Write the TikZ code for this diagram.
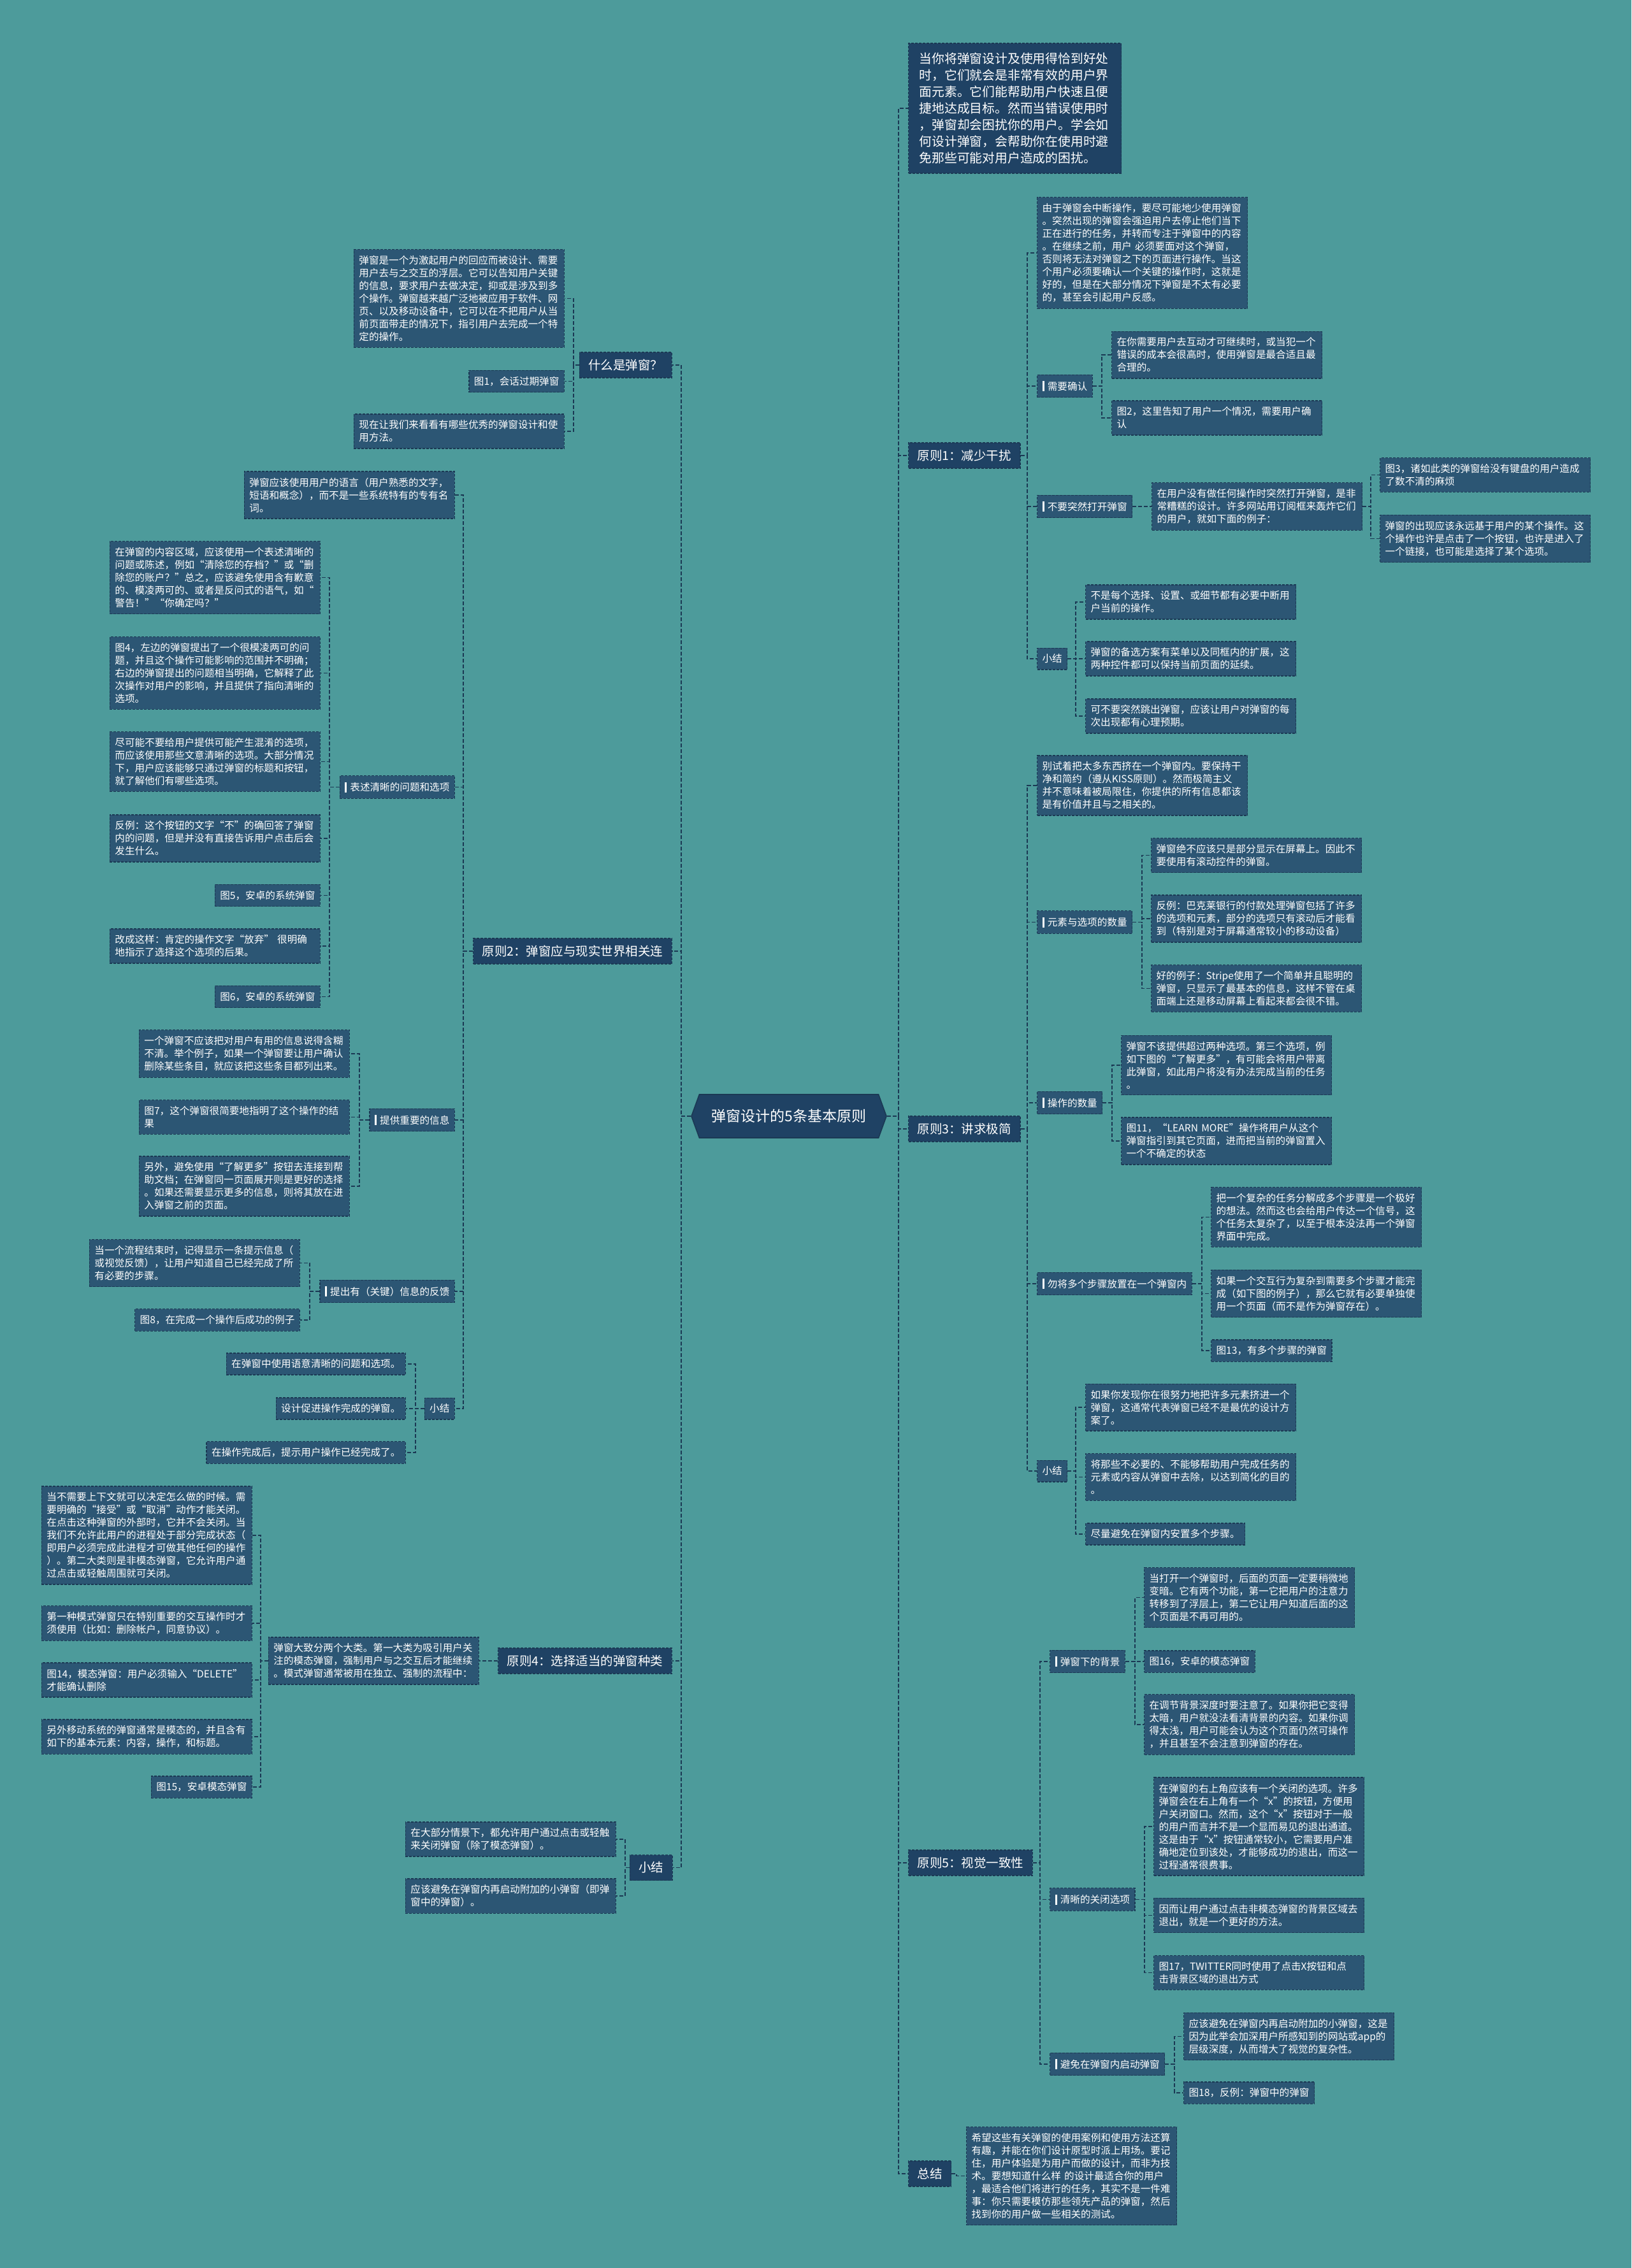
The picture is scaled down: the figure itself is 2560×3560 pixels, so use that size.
\documentclass[tikz,border=0pt]{standalone}
\usepackage{fontspec}
\setmainfont{Noto Sans CJK SC}
\usetikzlibrary{shapes.symbols}
\definecolor{bgc}{HTML}{4D9B9B}
\definecolor{leafc}{HTML}{2C5674}
\definecolor{primc}{HTML}{1F4264}
\definecolor{bordc}{HTML}{1B3954}
\definecolor{linec}{HTML}{1B3954}
\newcommand\lf{\fontsize{7.8pt}{10pt}\selectfont}
\newcommand\pf{\fontsize{9.75pt}{12pt}\selectfont}
\newcommand\vbarmark{\textcolor{white}{\rule[-0.9pt]{1.6pt}{8pt}}\hspace{2.5pt}}
\newcommand\rcon[3]{\draw[conn] (#1.east) -- (#3,0 |- #1.east) |- (#2.west);}
\newcommand\lcon[3]{\draw[conn] (#1.west) -- (#3,0 |- #1.west) |- (#2.east);}
\tikzset{
  box/.style={draw=bordc, line width=0.6pt, dash pattern=on 2pt off 1pt, text=white},
  leaf/.style={box, fill=leafc, font=\lf, inner xsep=4pt, inner ysep=4.85pt, align=left},
  wide/.style={text width=157pt},
  prim/.style={box, fill=primc, font=\pf, inner xsep=7pt, minimum height=20pt},
  conn/.style={draw=linec, line width=0.7pt, dash pattern=on 3pt off 1.5pt},
}
\begin{document}
\begin{tikzpicture}[x=0.5pt,y=-0.5pt]
\useasboundingbox (0,0) rectangle (2560,3560);
\fill[bgc] (0,0) rectangle (2560,3560);

% root
\node[shape=signal, signal to=east and west, signal pointer angle=140, fill=primc, draw=bordc, line width=0.8pt, text=white, font=\fontsize{11.5pt}{14pt}\selectfont, minimum width=153pt, minimum height=34pt, inner xsep=2pt] (root) at (1238,1752) {弹窗设计的5条基本原则};

% ===== right side =====
\node[box, fill=primc, font=\fontsize{9.9pt}{13pt}\selectfont, text width=150pt, inner xsep=8.5pt, minimum height=102pt, align=left, anchor=west] (intro) at (1425,170) {当你将弹窗设计及使用得恰到好处\\时，它们就会是非常有效的用户界\\面元素。它们能帮助用户快速且便\\捷地达成目标。然而当错误使用时\\，弹窗却会困扰你的用户。学会如\\何设计弹窗，会帮助你在使用时避\\免那些可能对用户造成的困扰。};

% 原则1
\node[prim, anchor=west] (p1) at (1425,715) {原则1：减少干扰};
\node[leaf, wide, anchor=west] (a1) at (1627,397) {由于弹窗会中断操作，要尽可能地少使用弹窗\\。突然出现的弹窗会强迫用户去停止他们当下\\正在进行的任务，并转而专注于弹窗中的内容\\。在继续之前，用户 必须要面对这个弹窗，\\否则将无法对弹窗之下的页面进行操作。当这\\个用户必须要确认一个关键的操作时，这就是\\好的，但是在大部分情况下弹窗是不太有必要\\的，甚至会引起用户反感。};
\node[leaf, anchor=west] (a2) at (1627,606) {\vbarmark 需要确认};
\node[leaf, wide, anchor=west] (a21) at (1744,557) {在你需要用户去互动才可继续时，或当犯一个\\错误的成本会很高时，使用弹窗是最合适且最\\合理的。};
\node[leaf, wide, anchor=west] (a22) at (1744,656) {图2，这里告知了用户一个情况，需要用户确\\认};
\node[leaf, anchor=west] (a3) at (1627,795) {\vbarmark 不要突然打开弹窗};
\node[leaf, wide, anchor=west] (a31) at (1807,795) {在用户没有做任何操作时突然打开弹窗，是非\\常糟糕的设计。许多网站用订阅框来轰炸它们\\的用户，就如下面的例子：};
\node[leaf, wide, anchor=west] (a311) at (2165,745.5) {图3，诸如此类的弹窗给没有键盘的用户造成\\了数不清的麻烦};
\node[leaf, wide, anchor=west] (a312) at (2165,845.5) {弹窗的出现应该永远基于用户的某个操作。这\\个操作也许是点击了一个按钮，也许是进入了\\一个链接，也可能是选择了某个选项。};
\node[leaf, anchor=west] (a4) at (1627,1034) {小结};
\node[leaf, wide, anchor=west] (a41) at (1703,945) {不是每个选择、设置、或细节都有必要中断用\\户当前的操作。};
\node[leaf, wide, anchor=west] (a42) at (1703,1034) {弹窗的备选方案有菜单以及同框内的扩展，这\\两种控件都可以保持当前页面的延续。};
\node[leaf, wide, anchor=west] (a43) at (1703,1124) {可不要突然跳出弹窗，应该让用户对弹窗的每\\次出现都有心理预期。};

% 原则3
\node[prim, anchor=west] (p3) at (1425,1772) {原则3：讲求极简};
\node[leaf, wide, anchor=west] (b1) at (1627,1233) {别试着把太多东西挤在一个弹窗内。要保持干\\净和简约（遵从KISS原则）。然而极简主义\\并不意味着被局限住，你提供的所有信息都该\\是有价值并且与之相关的。};
\node[leaf, anchor=west] (b2) at (1627,1447.5) {\vbarmark 元素与选项的数量};
\node[leaf, wide, anchor=west] (b21) at (1806,1342.5) {弹窗绝不应该只是部分显示在屏幕上。因此不\\要使用有滚动控件的弹窗。};
\node[leaf, wide, anchor=west] (b22) at (1806,1442) {反例：巴克莱银行的付款处理弹窗包括了许多\\的选项和元素，部分的选项只有滚动后才能看\\到（特别是对于屏幕通常较小的移动设备）};
\node[leaf, wide, anchor=west] (b23) at (1806,1551.5) {好的例子：Stripe使用了一个简单并且聪明的\\弹窗，只显示了最基本的信息，这样不管在桌\\面端上还是移动屏幕上看起来都会很不错。};
\node[leaf, anchor=west] (b3) at (1627,1731) {\vbarmark 操作的数量};
\node[leaf, wide, anchor=west] (b31) at (1759,1672) {弹窗不该提供超过两种选项。第三个选项，例\\如下图的“了解更多”，有可能会将用户带离\\此弹窗，如此用户将没有办法完成当前的任务\\。};
\node[leaf, wide, anchor=west] (b32) at (1759,1791) {图11，“LEARN MORE”操作将用户从这个\\弹窗指引到其它页面，进而把当前的弹窗置入\\一个不确定的状态};
\node[leaf, anchor=west] (b4) at (1627,2015) {\vbarmark 勿将多个步骤放置在一个弹窗内};
\node[leaf, wide, anchor=west] (b41) at (1900,1910.5) {把一个复杂的任务分解成多个步骤是一个极好\\的想法。然而这也会给用户传达一个信号，这\\个任务太复杂了，以至于根本没法再一个弹窗\\界面中完成。};
\node[leaf, wide, anchor=west] (b42) at (1900,2030.5) {如果一个交互行为复杂到需要多个步骤才能完\\成（如下图的例子），那么它就有必要单独使\\用一个页面（而不是作为弹窗存在）。};
\node[leaf, anchor=west] (b43) at (1900,2120) {图13，有多个步骤的弹窗};
\node[leaf, anchor=west] (b5) at (1627,2309) {小结};
\node[leaf, wide, anchor=west] (b51) at (1703,2209) {如果你发现你在很努力地把许多元素挤进一个\\弹窗，这通常代表弹窗已经不是最优的设计方\\案了。};
\node[leaf, wide, anchor=west] (b52) at (1703,2318.5) {将那些不必要的、不能够帮助用户完成任务的\\元素或内容从弹窗中去除，以达到简化的目的\\。};
\node[leaf, anchor=west] (b53) at (1703,2408) {尽量避免在弹窗内安置多个步骤。};

% 原则5
\node[prim, anchor=west] (p5) at (1425,2924) {原则5：视觉一致性};
\node[leaf, anchor=west] (c1) at (1647,2608) {\vbarmark 弹窗下的背景};
\node[leaf, wide, anchor=west] (c11) at (1795,2507.5) {当打开一个弹窗时，后面的页面一定要稍微地\\变暗。它有两个功能，第一它把用户的注意力\\转移到了浮层上，第二它让用户知道后面的这\\个页面是不再可用的。};
\node[leaf, anchor=west] (c12) at (1795,2608) {图16，安卓的模态弹窗};
\node[leaf, wide, anchor=west] (c13) at (1795,2707) {在调节背景深度时要注意了。如果你把它变得\\太暗，用户就没法看清背景的内容。如果你调\\得太浅，用户可能会认为这个页面仍然可操作\\，并且甚至不会注意到弹窗的存在。};
\node[leaf, anchor=west] (c2) at (1647,2981.5) {\vbarmark 清晰的关闭选项};
\node[leaf, wide, anchor=west] (c21) at (1810,2867) {在弹窗的右上角应该有一个关闭的选项。许多\\弹窗会在右上角有一个“x”的按钮，方便用\\户关闭窗口。然而，这个“x”按钮对于一般\\的用户而言并不是一个显而易见的退出通道。\\这是由于“x”按钮通常较小，它需要用户准\\确地定位到该处，才能够成功的退出，而这一\\过程通常很费事。};
\node[leaf, wide, anchor=west] (c22) at (1810,3006.5) {因而让用户通过点击非模态弹窗的背景区域去\\退出，就是一个更好的方法。};
\node[leaf, wide, anchor=west] (c23) at (1810,3096.5) {图17，TWITTER同时使用了点击X按钮和点\\击背景区域的退出方式};
\node[leaf, anchor=west] (c3) at (1647,3240) {\vbarmark 避免在弹窗内启动弹窗};
\node[leaf, wide, anchor=west] (c31) at (1857,3196.5) {应该避免在弹窗内再启动附加的小弹窗，这是\\因为此举会加深用户所感知到的网站或app的\\层级深度，从而增大了视觉的复杂性。};
\node[leaf, anchor=west] (c32) at (1857,3285) {图18，反例：弹窗中的弹窗};

% 总结
\node[prim, anchor=west] (zj) at (1425,3412) {总结};
\node[leaf, wide, anchor=west] (d1) at (1516,3415.5) {希望这些有关弹窗的使用案例和使用方法还算\\有趣，并能在你们设计原型时派上用场。要记\\住，用户体验是为用户而做的设计，而非为技\\术。要想知道什么样 的设计最适合你的用户\\，最适合他们将进行的任务，其实不是一件难\\事：你只需要模仿那些领先产品的弹窗，然后\\找到你的用户做一些相关的测试。};

% ===== left side =====
\node[prim, anchor=east] (l1) at (1055,573) {什么是弹窗？};
\node[leaf, wide, anchor=east] (e1) at (886,468.5) {弹窗是一个为激起用户的回应而被设计、需要\\用户去与之交互的浮层。它可以告知用户关键\\的信息，要求用户去做决定，抑或是涉及到多\\个操作。弹窗越来越广泛地被应用于软件、网\\页、以及移动设备中，它可以在不把用户从当\\前页面带走的情况下，指引用户去完成一个特\\定的操作。};
\node[leaf, anchor=east] (e2) at (886,598.5) {图1，会话过期弹窗};
\node[leaf, wide, anchor=east] (e3) at (886,677) {现在让我们来看看有哪些优秀的弹窗设计和使\\用方法。};

\node[prim, anchor=east] (l2) at (1055,1493) {原则2：弹窗应与现实世界相关连};
\node[leaf, wide, anchor=east] (f1) at (714,777) {弹窗应该使用用户的语言（用户熟悉的文字，\\短语和概念），而不是一些系统特有的专有名\\词。};
\node[leaf, anchor=east] (f2) at (714,1235.5) {\vbarmark 表述清晰的问题和选项};
\node[leaf, wide, anchor=east] (f21) at (503,906.5) {在弹窗的内容区域，应该使用一个表述清晰的\\问题或陈述，例如“清除您的存档？”或“删\\除您的账户？”总之，应该避免使用含有歉意\\的、模凌两可的、或者是反问式的语气，如“\\警告！”“你确定吗？”};
\node[leaf, wide, anchor=east] (f22) at (503,1056.5) {图4，左边的弹窗提出了一个很模凌两可的问\\题，并且这个操作可能影响的范围并不明确；\\右边的弹窗提出的问题相当明确，它解释了此\\次操作对用户的影响，并且提供了指向清晰的\\选项。};
\node[leaf, wide, anchor=east] (f23) at (503,1195.5) {尽可能不要给用户提供可能产生混淆的选项，\\而应该使用那些文意清晰的选项。大部分情况\\下，用户应该能够只通过弹窗的标题和按钮，\\就了解他们有哪些选项。};
\node[leaf, wide, anchor=east] (f24) at (503,1316) {反例：这个按钮的文字“不”的确回答了弹窗\\内的问题，但是并没有直接告诉用户点击后会\\发生什么。};
\node[leaf, anchor=east] (f25) at (503,1405.5) {图5，安卓的系统弹窗};
\node[leaf, wide, anchor=east] (f26) at (503,1485) {改成这样：肯定的操作文字“放弃” 很明确\\地指示了选择这个选项的后果。};
\node[leaf, anchor=east] (f27) at (503,1564.5) {图6，安卓的系统弹窗};
\node[leaf, anchor=east] (f3) at (714,1758) {\vbarmark 提供重要的信息};
\node[leaf, wide, anchor=east] (f31) at (549,1654) {一个弹窗不应该把对用户有用的信息说得含糊\\不清。举个例子，如果一个弹窗要让用户确认\\删除某些条目，就应该把这些条目都列出来。};
\node[leaf, wide, anchor=east] (f32) at (549,1753.5) {图7，这个弹窗很简要地指明了这个操作的结\\果};
\node[leaf, wide, anchor=east] (f33) at (549,1862) {另外，避免使用“了解更多”按钮去连接到帮\\助文档；在弹窗同一页面展开则是更好的选择\\。如果还需要显示更多的信息，则将其放在进\\入弹窗之前的页面。};
\node[leaf, anchor=east] (f4) at (714,2027) {\vbarmark 提出有（关键）信息的反馈};
\node[leaf, wide, anchor=east] (f41) at (471,1982.5) {当一个流程结束时，记得显示一条提示信息（\\或视觉反馈），让用户知道自己已经完成了所\\有必要的步骤。};
\node[leaf, anchor=east] (f42) at (471,2072) {图8，在完成一个操作后成功的例子};
\node[leaf, anchor=east] (f5) at (714,2211) {小结};
\node[leaf, anchor=east] (f51) at (637,2141) {在弹窗中使用语意清晰的问题和选项。};
\node[leaf, anchor=east] (f52) at (637,2211) {设计促进操作完成的弹窗。};
\node[leaf, anchor=east] (f53) at (637,2280) {在操作完成后，提示用户操作已经完成了。};

\node[prim, anchor=east] (l4) at (1055,2607) {原则4：选择适当的弹窗种类};
\node[leaf, wide, anchor=east] (g1) at (752,2607) {弹窗大致分两个大类。第一大类为吸引用户关\\注的模态弹窗，强制用户与之交互后才能继续\\。模式弹窗通常被用在独立、强制的流程中：};
\node[leaf, wide, anchor=east] (g11) at (396,2410) {当不需要上下文就可以决定怎么做的时候。需\\要明确的“接受”或“取消”动作才能关闭。\\在点击这种弹窗的外部时，它并不会关闭。当\\我们不允许此用户的进程处于部分完成状态（\\即用户必须完成此进程才可做其他任何的操作\\）。第二大类则是非模态弹窗，它允许用户通\\过点击或轻触周围就可关闭。};
\node[leaf, wide, anchor=east] (g12) at (396,2548) {第一种模式弹窗只在特别重要的交互操作时才\\须使用（比如：删除帐户，同意协议）。};
\node[leaf, wide, anchor=east] (g13) at (396,2637) {图14，模态弹窗：用户必须输入“DELETE”\\才能确认删除};
\node[leaf, wide, anchor=east] (g14) at (396,2726) {另外移动系统的弹窗通常是模态的，并且含有\\如下的基本元素：内容，操作，和标题。};
\node[leaf, anchor=east] (g15) at (396,2805) {图15，安卓模态弹窗};

\node[prim, anchor=east] (l5) at (1056,2931.5) {小结};
\node[leaf, wide, anchor=east] (h1) at (967,2887) {在大部分情景下，都允许用户通过点击或轻触\\来关闭弹窗（除了模态弹窗）。};
\node[leaf, wide, anchor=east] (h2) at (967,2976) {应该避免在弹窗内再启动附加的小弹窗（即弹\\窗中的弹窗）。};

% ===== connectors =====
\rcon{root}{intro}{1410}
\rcon{root}{p1}{1410}
\rcon{root}{p3}{1410}
\rcon{root}{p5}{1410}
\rcon{root}{zj}{1410}
\lcon{root}{l1}{1069}
\lcon{root}{l2}{1069}
\lcon{root}{l4}{1069}
\lcon{root}{l5}{1069}

\rcon{p1}{a1}{1612}
\rcon{p1}{a2}{1612}
\rcon{p1}{a3}{1612}
\rcon{p1}{a4}{1612}
\rcon{a2}{a21}{1729}
\rcon{a2}{a22}{1729}
\rcon{a3}{a31}{1791}
\rcon{a31}{a311}{2151}
\rcon{a31}{a312}{2151}
\rcon{a4}{a41}{1688}
\rcon{a4}{a42}{1688}
\rcon{a4}{a43}{1688}

\rcon{p3}{b1}{1612}
\rcon{p3}{b2}{1612}
\rcon{p3}{b3}{1612}
\rcon{p3}{b4}{1612}
\rcon{p3}{b5}{1612}
\rcon{b2}{b21}{1792}
\rcon{b2}{b22}{1792}
\rcon{b2}{b23}{1792}
\rcon{b3}{b31}{1745}
\rcon{b3}{b32}{1745}
\rcon{b4}{b41}{1886}
\rcon{b4}{b42}{1886}
\rcon{b4}{b43}{1886}
\rcon{b5}{b51}{1688}
\rcon{b5}{b52}{1688}
\rcon{b5}{b53}{1688}

\rcon{p5}{c1}{1632}
\rcon{p5}{c2}{1632}
\rcon{p5}{c3}{1632}
\rcon{c1}{c11}{1781}
\rcon{c1}{c12}{1781}
\rcon{c1}{c13}{1781}
\rcon{c2}{c21}{1796}
\rcon{c2}{c22}{1796}
\rcon{c2}{c23}{1796}
\rcon{c3}{c31}{1843}
\rcon{c3}{c32}{1843}

\rcon{zj}{d1}{1501}

\lcon{l1}{e1}{900}
\lcon{l1}{e2}{900}
\lcon{l1}{e3}{900}

\lcon{l2}{f1}{727}
\lcon{l2}{f2}{727}
\lcon{l2}{f3}{727}
\lcon{l2}{f4}{727}
\lcon{l2}{f5}{727}
\lcon{f2}{f21}{517}
\lcon{f2}{f22}{517}
\lcon{f2}{f23}{517}
\lcon{f2}{f24}{517}
\lcon{f2}{f25}{517}
\lcon{f2}{f26}{517}
\lcon{f2}{f27}{517}
\lcon{f3}{f31}{564}
\lcon{f3}{f32}{564}
\lcon{f3}{f33}{564}
\lcon{f4}{f41}{486}
\lcon{f4}{f42}{486}
\lcon{f5}{f51}{652}
\lcon{f5}{f52}{652}
\lcon{f5}{f53}{652}

\lcon{l4}{g1}{768}
\lcon{g1}{g11}{409}
\lcon{g1}{g12}{409}
\lcon{g1}{g13}{409}
\lcon{g1}{g14}{409}
\lcon{g1}{g15}{409}

\lcon{l5}{h1}{981}
\lcon{l5}{h2}{981}
\end{tikzpicture}
\end{document}
